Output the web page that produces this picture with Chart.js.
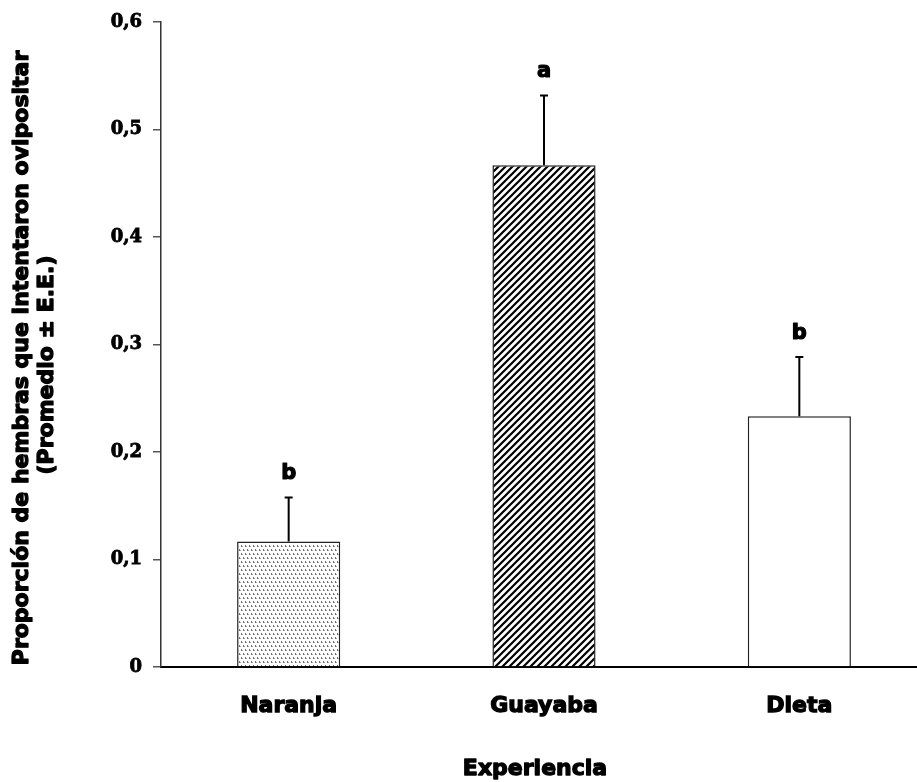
<!DOCTYPE html>
<html>
<head>
<meta charset="utf-8">
<script src="https://cdn.jsdelivr.net/npm/chart.js@4/dist/chart.umd.min.js"></script>
<style>
  html, body { margin: 0; padding: 0; background: #fff; overflow: hidden; }
  #wrap { width: 917px; height: 782px; overflow: hidden; position: relative; }
  canvas { display: block; }
</style>
</head>
<body>
<div id="wrap"><canvas id="c" width="927" height="782"></canvas></div>
<script>
// Treatments, mean proportion of females that tried to oviposit, and standard errors
const categories = ['Naranja', 'Guayaba', 'Dieta'];
const means = [0.1167, 0.4667, 0.2333];
const errors = [0.041, 0.065, 0.055];
const letters = ['b', 'a', 'b'];
const yTicks = [0, 0.1, 0.2, 0.3, 0.4, 0.5, 0.6];
const yTitle = ['Proporción de hembras que intentaron ovipositar', '(Promedio ± E.E.)'];
const xTitle = 'Experiencia';

function dotPattern() {
  const t = document.createElement('canvas');
  t.width = 8; t.height = 8;
  const g = t.getContext('2d');
  g.fillStyle = '#fff';
  g.fillRect(0, 0, 8, 8);
  g.fillStyle = '#6e6e6e';
  g.fillRect(1, 1, 1, 2);
  g.fillRect(5, 1, 1, 2);
  g.fillRect(3, 5, 1, 2);
  g.fillRect(7, 5, 1, 2);
  g.fillStyle = '#a8a8a8';
  g.fillRect(2, 2, 1, 1);
  g.fillRect(6, 2, 1, 1);
  g.fillRect(4, 6, 1, 1);
  g.fillRect(0, 6, 1, 1);
  return g.createPattern(t, 'repeat');
}

function hatchPattern() {
  const s = 7;
  const t = document.createElement('canvas');
  t.width = s; t.height = s;
  const g = t.getContext('2d');
  g.fillStyle = '#fff';
  g.fillRect(0, 0, s, s);
  g.strokeStyle = '#000';
  g.lineWidth = 2.2;
  g.beginPath();
  g.moveTo(-1, s + 1); g.lineTo(s + 1, -1);
  g.moveTo(-1, 1); g.lineTo(1, -1);
  g.moveTo(s - 1, s + 1); g.lineTo(s + 1, s - 1);
  g.stroke();
  return g.createPattern(t, 'repeat');
}

const fills = [dotPattern(), hatchPattern(), '#ffffff'];

function heavyText(ctx, text, x, y, w) {
  ctx.lineWidth = w;
  ctx.lineJoin = 'round';
  ctx.strokeText(text, x, y);
  ctx.fillText(text, x, y);
}

// Error bars and significance letters above each bar
const errorBars = {
  id: 'errorBars',
  afterDatasetsDraw(chart) {
    const ctx = chart.ctx;
    const y = chart.scales.y;
    const meta = chart.getDatasetMeta(0);
    ctx.save();
    meta.data.forEach((bar, i) => {
      const top = y.getPixelForValue(means[i]);
      const cap = y.getPixelForValue(means[i] + errors[i]);
      ctx.strokeStyle = '#000';
      ctx.lineWidth = 2;
      ctx.beginPath();
      ctx.moveTo(bar.x, top);
      ctx.lineTo(bar.x, cap);
      ctx.moveTo(bar.x - 4, cap);
      ctx.lineTo(bar.x + 4, cap);
      ctx.stroke();
      ctx.fillStyle = '#000';
      ctx.strokeStyle = '#000';
      ctx.font = 'bold 21px "DejaVu Sans"';
      ctx.textAlign = 'center';
      ctx.textBaseline = 'alphabetic';
      heavyText(ctx, letters[i], bar.x, cap - 18, 1.2);
    });
    ctx.restore();
  }
};

// Axis titles
const axisTitles = {
  id: 'axisTitles',
  afterDraw(chart) {
    const ctx = chart.ctx;
    ctx.save();
    ctx.fillStyle = '#000';
    ctx.strokeStyle = '#000';
    ctx.font = 'bold 22px "DejaVu Sans"';
    ctx.textAlign = 'center';
    ctx.textBaseline = 'middle';
    heavyText(ctx, xTitle, 535, 769, 1.3);
    ctx.save();
    ctx.translate(22, 358);
    ctx.rotate(-Math.PI / 2);
    heavyText(ctx, yTitle[0], 0, 0, 1.3);
    ctx.restore();
    ctx.save();
    ctx.translate(47, 365);
    ctx.rotate(-Math.PI / 2);
    heavyText(ctx, yTitle[1], 0, 0, 1.3);
    ctx.restore();
    ctx.restore();
  }
};

new Chart(document.getElementById('c'), {
  type: 'bar',
  data: {
    labels: categories,
    datasets: [{
      data: means,
      backgroundColor: fills,
      borderColor: '#222',
      borderWidth: 1.5,
      borderSkipped: 'bottom',
      barPercentage: 0.404,
      categoryPercentage: 1.0
    }]
  },
  options: {
    responsive: false,
    animation: false,
    devicePixelRatio: 1,
    layout: { padding: { top: 22, left: 0, right: 0, bottom: 0 } },
    plugins: { legend: { display: false }, tooltip: { enabled: false } },
    scales: {
      x: {
        offset: true,
        grid: { display: false, drawTicks: false },
        border: { display: true, color: '#000', width: 2 },
        ticks: {
          color: '#000',
          padding: 26,
          textStrokeColor: '#000',
          textStrokeWidth: 1.3,
          font: { family: 'DejaVu Sans', weight: 'bold', size: 22 }
        },
        afterFit(scale) { scale.height = 115; }
      },
      y: {
        min: 0,
        max: 0.6,
        afterBuildTicks(scale) { scale.ticks = yTicks.map(v => ({ value: v })); },
        grid: { drawOnChartArea: false, drawTicks: true, tickLength: 8, color: '#555', lineWidth: 1.5 },
        border: { display: true, color: '#333', width: 1.5 },
        ticks: {
          color: '#000',
          padding: 11,
          textStrokeColor: '#000',
          textStrokeWidth: 0.8,
          font: { family: 'DejaVu Serif', weight: 'bold', size: 18 },
          callback: v => (v === 0 ? '0' : v.toFixed(1).replace('.', ','))
        },
        afterFit(scale) { scale.width = 161; }
      }
    }
  },
  plugins: [errorBars, axisTitles]
});
</script>
</body>
</html>
